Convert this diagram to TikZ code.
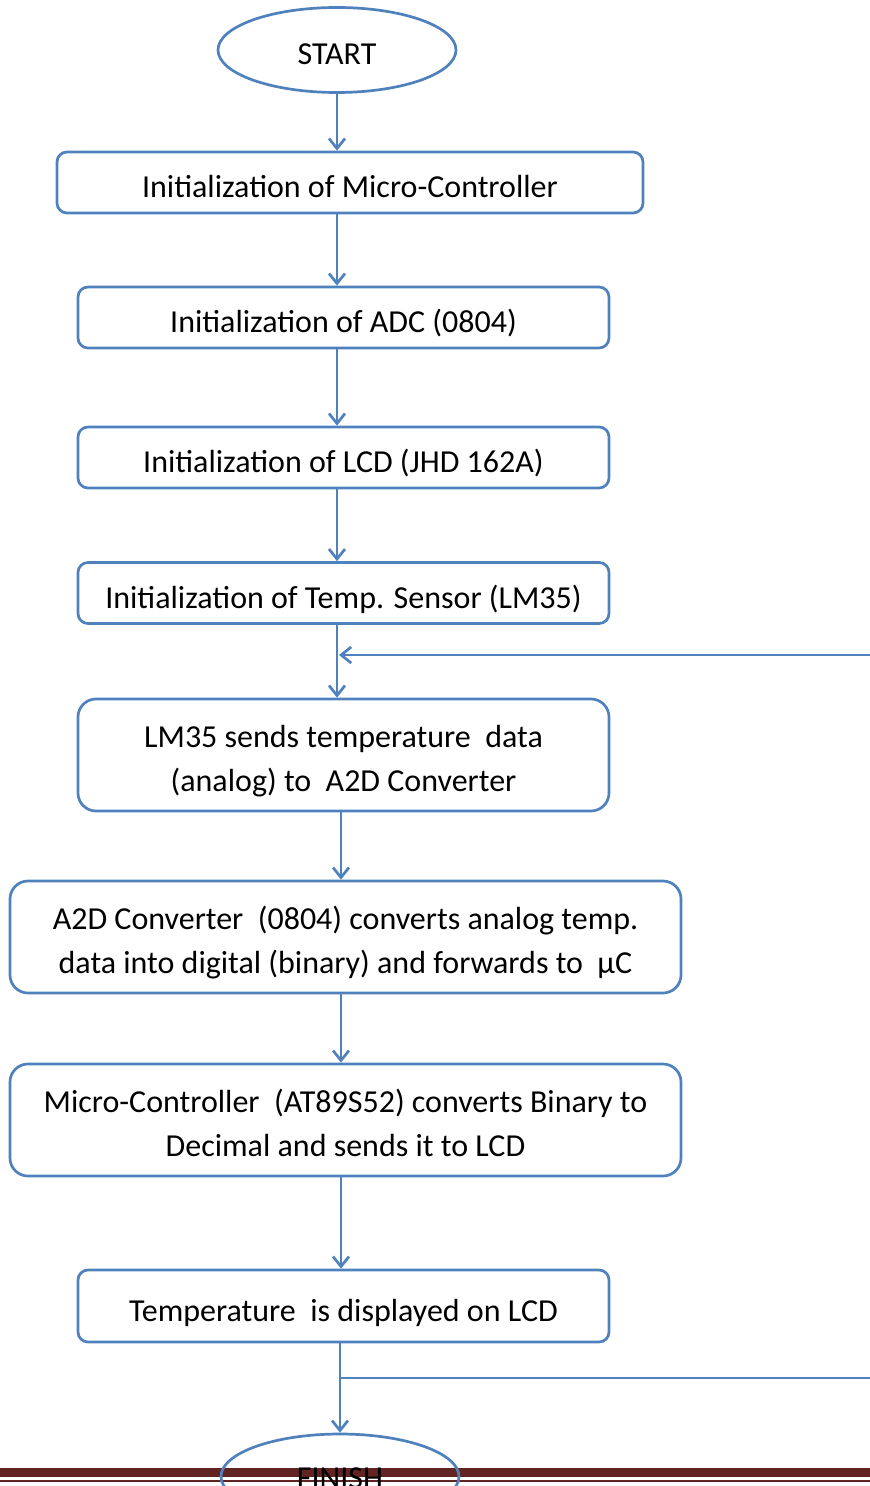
\documentclass[tikz,border=0pt]{standalone}
\usepackage{fontspec}
\setmainfont{Carlito}
\usetikzlibrary{arrows.meta,shapes.geometric}
\definecolor{flowblue}{HTML}{4F81BD}
\definecolor{bandred}{HTML}{622423}

\begin{document}
\begin{tikzpicture}[x=0.5pt, y=-0.5pt, >={Straight Barb[length=5pt,width=8pt]},
  every node/.style={font=\fontsize{16}{22}\selectfont, text height=15pt, text depth=0pt},
  box/.style={draw=flowblue, line width=1.35pt, rounded corners=5pt, align=center,
    minimum width=265.5pt, minimum height=30.5pt, inner sep=0pt},
  bigbox/.style={box, rounded corners=9pt, minimum height=56pt,
    text height=40pt, text depth=3.5pt},
  terminal/.style={draw=flowblue, line width=1.35pt, ellipse,
    minimum width=119pt, minimum height=42.5pt, inner sep=0pt},
  flow/.style={draw=flowblue, line width=1.35pt}]
\useasboundingbox (0,0) rectangle (870,1486);
\clip (0,0) rectangle (870,1486);

\node[terminal] (start) at (337,50) {START};
\node[box, minimum width=293pt] (initmc) at (350,182.5) {Initialization of Micro-Controller};
\node[box] (initadc) at (343.5,317.5) {Initialization of ADC (0804)};
\node[box] (initlcd) at (343.5,457.5) {Initialization of LCD (JHD 162A)};
\node[box] (initsens) at (343.5,593) {Initialization of Temp. Sensor (LM35)};
\node[bigbox] (sense) at (343.5,755) {LM35 sends temperature\ \ data\\(analog) to\ \ A2D Converter};
\node[bigbox, minimum width=335.5pt] (convert) at (345.5,937) {A2D Converter\ \ (0804) converts analog temp.\\data into digital (binary) and forwards to\ \ µC};
\node[bigbox, minimum width=335.5pt] (decimal) at (345.5,1120) {Micro-Controller\ \ (AT89S52) converts Binary to\\Decimal and sends it to LCD};
\node[box, minimum height=36pt] (display) at (343.5,1306) {Temperature\ \ is displayed on LCD};

% page rule at the bottom
\fill[bandred] (0,1468) rectangle (870,1477);
\fill[bandred] (0,1479.5) rectangle (870,1481.5);
\node[terminal, text height=12pt] (finish) at (340,1476.5) {FINISH};

\coordinate (spine) at (341,0);
\coordinate (loopin) at (870,655);
\coordinate (loopout) at (870,1378);

\draw[flow,->] (start.south) -- (start.south |- initmc.north);
\draw[flow,->] (initmc.south -| start) -- (initadc.north -| start);
\draw[flow,->] (initadc.south -| start) -- (initlcd.north -| start);
\draw[flow,->] (initlcd.south -| start) -- (initsens.north -| start);
\draw[flow,->] (initsens.south -| start) -- (sense.north -| start);
\draw[flow,->] (loopin) -- ([xshift=1pt]loopin -| start);
\draw[flow,->] (sense.south -| spine) -- (convert.north -| spine);
\draw[flow,->] (convert.south -| spine) -- (decimal.north -| spine);
\draw[flow,->] (decimal.south -| spine) -- (display.north -| spine);
\draw[flow,->] (display.south -| finish) -- (finish.north);
\draw[flow] (finish.north |- loopout) -- (loopout);
\end{tikzpicture}
\end{document}
